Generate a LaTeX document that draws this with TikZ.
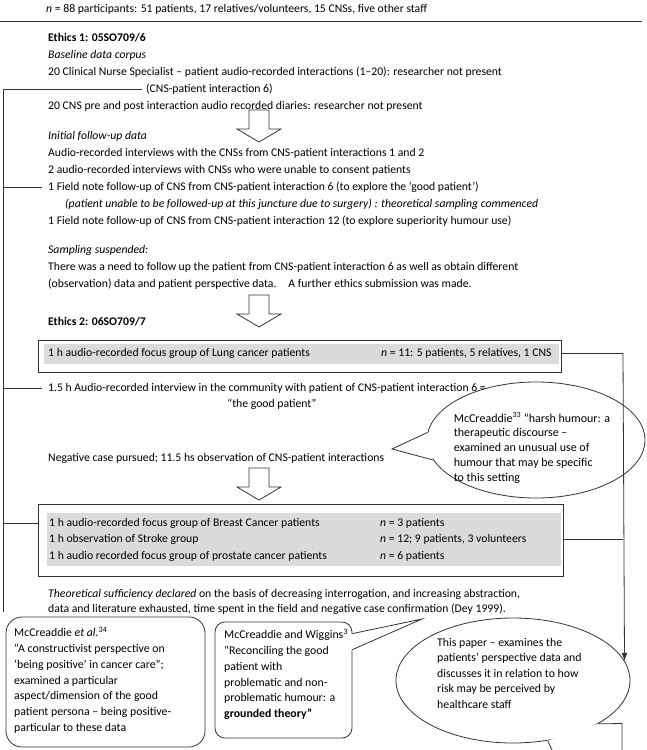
\documentclass[tikz,border=0pt]{standalone}
\usepackage{fontspec}
\setmainfont{Carlito}
\usetikzlibrary{shapes.geometric,arrows.meta,calc}
\tikzset{
  every node/.style={font=\fontsize{11.7}{15}\selectfont},
  txt/.style={anchor=west,inner sep=0pt},
  line/.style={draw=black!80,line width=0.8pt},
  frame/.style={draw=black!80,line width=0.8pt,inner sep=0pt},
  band/.style={fill=black!14},
  bubble/.style={draw=black!80,line width=0.8pt},
  blocktext/.style={anchor=north west,inner sep=0pt,align=left,font=\fontsize{11.8}{15.7}\selectfont},
  downarrow/.pic={\draw[draw=black!80,line width=0.8pt,fill=white]
     (-10,0) -- (10,0) -- (10,19) -- (22,19) -- (0,32) -- (-22,19) -- (-10,19) -- cycle;}
}
\begin{document}
\begin{tikzpicture}[x=1pt,y=-1pt]
\useasboundingbox (0,0) rectangle (646,750);
\clip (0,0) rectangle (646,750);

% header
\node[txt] (top) at (46,9) {\textit{n} = 88 participants: 51 patients, 17 relatives/volunteers, 15 CNSs, five other staff};
\coordinate (ruleL) at (0,21);
\coordinate (ruleR) at (642,21);
\draw[line] (ruleL) -- (ruleR);

% ethics 1
\node[txt] (eth1) at (48,38) {\textbf{Ethics 1: 05SO709/6}};
\node[txt] (base) at (48,55) {\textit{Baseline data corpus}};
\node[txt] (clin) at (48,72) {20 Clinical Nurse Specialist – patient audio-recorded interactions (1–20): researcher not present};
\node[txt] (cns6) at (146,89) {(CNS-patient interaction 6)};
\node[txt] (pre) at (48,106) {20 CNS pre and post interaction audio recorded diaries: researcher not present};
\pic (arrA) at (259,110) {downarrow};
\node[txt] (init) at (48,136) {\textit{Initial follow-up data}};
\node[txt] (aud) at (48,153) {Audio-recorded interviews with the CNSs from CNS-patient interactions 1 and 2};
\node[txt] (two) at (48,170) {2 audio-recorded interviews with CNSs who were unable to consent patients};
\node[txt] (f6) at (48,187) {1 Field note follow-up of CNS from CNS-patient interaction 6 (to explore the ‘good patient’)};
\node[txt] (pat) at (65,204) {\textit{(patient unable to be followed-up at this juncture due to surgery) : theoretical sampling commenced}};
\node[txt] (f12) at (48,221) {1 Field note follow-up of CNS from CNS-patient interaction 12 (to explore superiority humour use)};
\node[txt] (samp) at (48,250) {\textit{Sampling suspended:}};
\node[txt] (need) at (48,267) {There was a need to follow up the patient from CNS-patient interaction 6 as well as obtain different};
\node[txt] (obs) at (48,284) {(observation) data and patient perspective data.\hspace{12pt}A further ethics submission was made.};
\pic (arrB) at (259,295) {downarrow};
\node[txt] (eth2) at (48,322) {\textbf{Ethics 2: 06SO709/7}};

% lung box
\node[frame, minimum width=523pt, minimum height=32pt] (lung) at (299.5,356) {};
\fill[band] (44,344) rectangle (559,364);
\node[txt] (lungA) at (48,353) {1 h audio-recorded focus group of Lung cancer patients};
\node[txt] (lungB) at (381,353) {\textit{n} = 11: 5 patients, 5 relatives, 1 CNS};

\node[txt] (int15) at (48,388) {1.5 h Audio-recorded interview in the community with patient of CNS-patient interaction 6 =};
\node[inner sep=0pt] (good) at (272,404) {“the good patient”};

% harsh humour bubble
\node[bubble, ellipse, minimum width=218pt, minimum height=116pt, inner sep=0pt] (harsh) at (536,440) {};
\node[anchor=center, inner sep=0pt, align=left, font=\fontsize{12}{14.8}\selectfont] (harsht) at (532,448)
  {McCreaddie\textsuperscript{33} “harsh humour: a\\therapeutic discourse –\\examined an unusual use of\\humour that may be specific\\to this setting};
\coordinate (tipH) at (392,449);
\fill[white] (harsh.176) -- (tipH) -- (harsh.191) -- cycle;
\draw[bubble] (harsh.176) -- (tipH) -- (harsh.191);

\node[txt] (neg) at (48,458) {Negative case pursued; 11.5 hs observation of CNS-patient interactions};
\pic (arrC) at (259,468) {downarrow};

% second box
\node[frame, minimum width=525pt, minimum height=72pt] (box2) at (300.5,540) {};
\fill[band] (47,513) rectangle (561,566);
\node[txt] (br) at (49,523) {1 h audio-recorded focus group of Breast Cancer patients};
\node[txt] (brn) at (380,523) {\textit{n} = 3 patients};
\node[txt] (st) at (49,539) {1 h observation of Stroke group};
\node[txt] (stn) at (380,539) {\textit{n} = 12; 9 patients, 3 volunteers};
\node[txt] (pr) at (49,556) {1 h audio recorded focus group of prostate cancer patients};
\node[txt] (prn) at (380,556) {\textit{n} = 6 patients};

\node[txt] (theo) at (48,594) {\textit{Theoretical sufficiency declared} on the basis of decreasing interrogation, and increasing abstraction,};
\node[txt] (dat) at (48,609) {data and literature exhausted, time spent in the field and negative case confirmation (Dey 1999).};

% bottom box A
\node[frame, rounded corners=16pt, minimum width=199pt, minimum height=130pt] (boxA) at (105.5,682) {};
\node[blocktext] (boxAt) at (14,627)
  {McCreaddie \textit{et al.}\textsuperscript{34}\\“A constructivist perspective on\\‘being positive’ in cancer care”;\\examined a particular\\aspect/dimension of the good\\patient persona – being positive-\\particular to these data};

% bottom box B
\node[frame, rounded corners=10pt, minimum width=137pt, minimum height=116pt] (boxB) at (283.5,680) {};
\node[blocktext] (boxBt) at (224,629)
  {McCreaddie and Wiggins\textsuperscript{3}\\“Reconciling the good\\patient with\\problematic and non-\\problematic humour: a\\\textbf{grounded theory”}};
\coordinate (tipB) at (422,619);
\coordinate (bB1) at ($(boxB.north east)+(0,12)$);
\coordinate (bB2) at ($(boxB.north east)+(0,28)$);
\fill[white] ($(bB1)+(-1.5,0)$) rectangle ($(bB2)+(1.5,0)$);
\draw[bubble] (bB1) -- (tipB) -- (bB2);

% bottom ellipse C
\node[bubble, ellipse, minimum width=234pt, minimum height=125pt, inner sep=0pt] (ellC) at (513,680.5) {};
\coordinate (cR) at (640,723.5);
\coordinate (cRb) at (640,760);
\coordinate (cLb) at (540,760);
\fill[white] (ellC.333.2) -- (cR) -- (cRb) -- (cLb) -- (ellC.300.4) -- cycle;
\coordinate (cN) at (622,723.5);
\coordinate (tipC) at (622,900);
\draw[bubble] (ellC.333.2) -- (cN) -- (tipC);
\draw[bubble] (ellC.300.4) -- (tipC);
\node[anchor=north west, inner sep=0pt, align=left, font=\fontsize{11.8}{15.5}\selectfont] (ellCt) at (437,638)
  {This paper – examines the\\patients’ perspective data and\\discusses it in relation to how\\risk may be perceived by\\healthcare staff};

% connectors left
\coordinate (Ltop) at (3,89);
\coordinate (Lbot) at (3,612);
\draw[line, shorten <=4pt] (cns6.west) -- (Ltop) -- (Lbot);
\draw[line, shorten <=6pt] (f6.west) -- (f6.west -| Ltop);
\draw[line, shorten <=6pt] (int15.west) -- (int15.west -| Ltop);
\draw[line] (br.west -| box2.west) -- (br.west -| Ltop);

% connectors right
\coordinate (Rtop) at (623,353);
\draw[line] (lungB.east -| lung.east) -- (Rtop);
\draw[line, -{Latex[length=8pt,width=6pt]}] (Rtop) -- (ellC.10);
\draw[line] (stn.east -| box2.east) -- (stn.east -| Rtop);
\end{tikzpicture}
\end{document}
